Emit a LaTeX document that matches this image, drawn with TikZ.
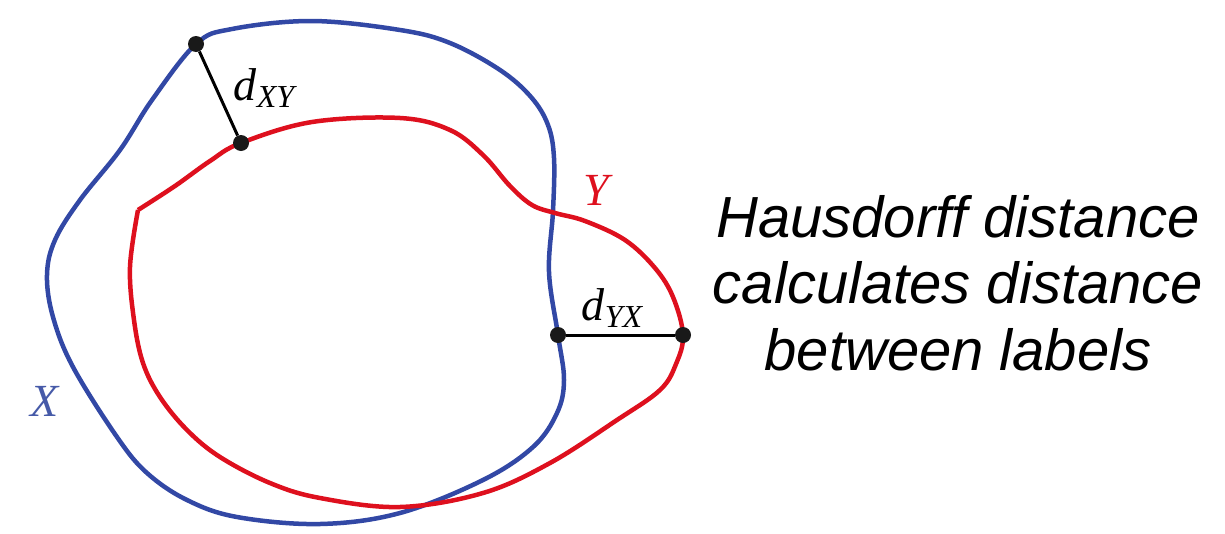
\documentclass[tikz,border=0pt]{standalone}
\usepackage{fontspec}
\setmainfont{Liberation Serif}
\newfontfamily\arialfont{Liberation Sans}
\definecolor{xblue}{RGB}{50,72,165}
\definecolor{yred}{RGB}{222,16,30}
\definecolor{xlab}{RGB}{70,90,168}
\begin{document}
\begin{tikzpicture}[x=1pt,y=-1pt,
  curve/.style={line width=4.5pt, line join=round},
  conn/.style={line width=3pt, black},
  dot/.style={circle, fill=black!90, inner sep=0pt, minimum size=16pt},
  lab/.style={inner sep=0pt, font=\fontsize{46}{50}\selectfont\itshape}]
\useasboundingbox (0,0) rectangle (1225,533);
% X curve (blue)
\draw[curve, xblue] plot[smooth cycle, tension=0.6] coordinates {
 (196,44) (232,29) (312,21) (400,30) (450,43) (500,70) (531,97) (548,125)
 (554,158) (553,211) (549,272) (558,335) (564,380) (557,413) (533,447)
 (483,480) (400,513) (320,524) (237,517) (187,500) (147,473) (117,437)
 (73,367) (53,317) (47,275) (55,240) (80,200) (120,150) (152,100)};
% Y curve (red)
\draw[curve, yred] plot[smooth, tension=0.6] coordinates {
 (138,210) (175,186) (210,161) (241,143) (312,122) (400,118) (450,130)
 (483,155) (510,186) (532,205) (555,213) (585,221) (625,240) (655,268)
 (673,297) (683,335) (676,364) (660,390) (617,420) (550,463)
 (483,493) (400,507) (320,498) (270,483) (220,457) (187,430) (160,397)
 (143,363) (134,320) (130,267) (138,210)};
% points
\node[dot] (xa) at (196,44) {};
\node[dot] (ya) at (241,143) {};
\node[dot] (xb) at (558,335) {};
\node[dot] (yb) at (683,335) {};
\draw[conn] (xa) -- (ya);
\draw[conn] (xb) -- (yb);
% labels
\node[lab] (dxy) at (264,88) {\textit{d}\raisebox{-0.3ex}{\fontsize{32}{36}\selectfont\itshape XY}};
\node[lab] (dyx) at (612,308) {\textit{d}\raisebox{-0.3ex}{\fontsize{32}{36}\selectfont\itshape YX}};
\node[lab, text=yred] (ylab) at (596,190) {Y};
\node[lab, text=xlab] (xlabn) at (45,401) {X};
\node[inner sep=0pt, align=center, font=\arialfont\itshape\fontsize{58}{66.5}\selectfont] (txt) at (958,283)
 {Hausdorff distance\\calculates distance\\between labels};
\end{tikzpicture}
\end{document}
